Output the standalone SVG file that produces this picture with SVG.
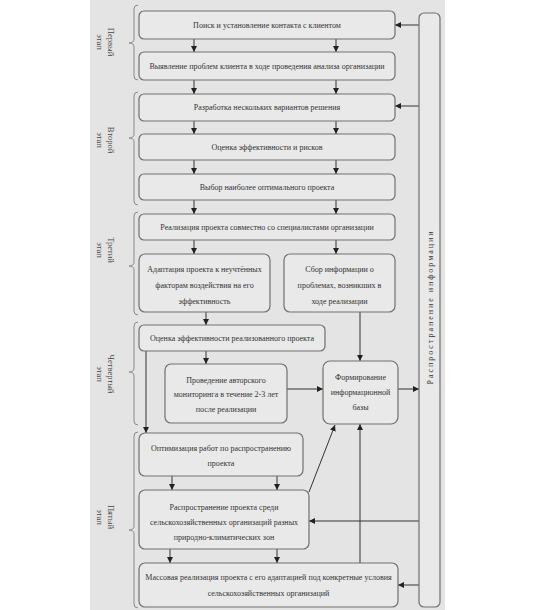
<svg xmlns="http://www.w3.org/2000/svg" width="535" height="610" viewBox="0 0 535 610">
<style>
.bg{fill:#e4e4e4}
.box{fill:#e9e9e9;stroke:#707070;stroke-width:1.2}
.t{font-family:"Liberation Serif","Times New Roman",serif;font-size:8px;fill:#333;text-anchor:middle}
.lbl{font-family:"Liberation Serif","Times New Roman",serif;font-size:8.5px;fill:#444;text-anchor:middle}
.c{stroke:#333;stroke-width:1;fill:none}
.br{stroke:#8a8a8a;stroke-width:1;fill:none}
</style>
<defs>
<marker id="ah" viewBox="0 0 10 10" refX="10" refY="5" markerWidth="6" markerHeight="6" orient="auto" markerUnits="userSpaceOnUse">
<path d="M0,0 L10,5 L0,10 z" fill="#222"/>
</marker>
</defs>
<rect x="0" y="0" width="535" height="610" fill="#ffffff"/>
<rect class="bg" x="90" y="0" width="355" height="610"/>

<g id="braces">
<path class="br" d="M138 5 Q134 5 134 9 L134 39 Q134 43 129 43 Q134 43 134 47 L134 76 Q134 80 138 80"/>
<path class="br" d="M138 92 Q134 92 134 96 L134 134 Q134 138 129 138 Q134 138 134 142 L134 201 Q134 205 138 205"/>
<path class="br" d="M138 212 Q134 212 134 216 L134 262 Q134 266 129 266 Q134 266 134 270 L134 311 Q134 315 138 315"/>
<path class="br" d="M138 322 Q134 322 134 326 L134 368 Q134 372 129 372 Q134 372 134 376 L134 421 Q134 425 138 425"/>
<path class="br" d="M138 432 Q134 432 134 436 L134 526 Q134 530 129 530 Q134 530 134 534 L134 604 Q134 608 138 608"/>
</g>

<g id="stage-labels">
<text class="lbl" transform="translate(108,42) rotate(90)">Первый</text>
<text class="lbl" transform="translate(97,42) rotate(90)">этап</text>
<text class="lbl" transform="translate(108,140) rotate(90)">Второй</text>
<text class="lbl" transform="translate(97,140) rotate(90)">этап</text>
<text class="lbl" transform="translate(108,250) rotate(90)">Третий</text>
<text class="lbl" transform="translate(97,250) rotate(90)">этап</text>
<text class="lbl" transform="translate(108,374) rotate(90)">Четвертый</text>
<text class="lbl" transform="translate(97,374) rotate(90)">этап</text>
<text class="lbl" transform="translate(108,517) rotate(90)">Пятый</text>
<text class="lbl" transform="translate(97,517) rotate(90)">этап</text>
</g>

<g id="connectors">
<line class="c" x1="194" y1="39" x2="194" y2="52" marker-end="url(#ah)"/>
<line class="c" x1="336" y1="39" x2="336" y2="52" marker-end="url(#ah)"/>
<line class="c" x1="194" y1="80" x2="194" y2="94" marker-end="url(#ah)"/>
<line class="c" x1="336" y1="80" x2="336" y2="94" marker-end="url(#ah)"/>
<line class="c" x1="194" y1="121" x2="194" y2="134" marker-end="url(#ah)"/>
<line class="c" x1="336" y1="121" x2="336" y2="134" marker-end="url(#ah)"/>
<line class="c" x1="194" y1="160" x2="194" y2="174" marker-end="url(#ah)"/>
<line class="c" x1="336" y1="160" x2="336" y2="174" marker-end="url(#ah)"/>
<line class="c" x1="194" y1="200" x2="194" y2="214" marker-end="url(#ah)"/>
<line class="c" x1="336" y1="200" x2="336" y2="214" marker-end="url(#ah)"/>
<line class="c" x1="194" y1="240" x2="194" y2="254" marker-end="url(#ah)"/>
<line class="c" x1="336" y1="240" x2="336" y2="254" marker-end="url(#ah)"/>
<line class="c" x1="206" y1="312" x2="206" y2="325" marker-end="url(#ah)"/>
<line class="c" x1="206" y1="351" x2="206" y2="364" marker-end="url(#ah)"/>
<line class="c" x1="360" y1="312" x2="360" y2="361" marker-end="url(#ah)"/>
<line class="c" x1="287" y1="389" x2="323" y2="389" marker-end="url(#ah)"/>
<line class="c" x1="398" y1="389" x2="419" y2="389" marker-end="url(#ah)"/>
<line class="c" x1="146" y1="351" x2="146" y2="433" marker-end="url(#ah)"/>
<line class="c" x1="172" y1="476" x2="172" y2="490" marker-end="url(#ah)"/>
<line class="c" x1="277" y1="476" x2="277" y2="490" marker-end="url(#ah)"/>
<line class="c" x1="170" y1="549" x2="170" y2="563" marker-end="url(#ah)"/>
<line class="c" x1="277" y1="549" x2="277" y2="563" marker-end="url(#ah)"/>
<line class="c" x1="309" y1="492" x2="335" y2="425" marker-end="url(#ah)"/>
<line class="c" x1="360" y1="563" x2="360" y2="424" marker-end="url(#ah)"/>
<line class="c" x1="419" y1="25" x2="395" y2="25" marker-end="url(#ah)"/>
<line class="c" x1="419" y1="106" x2="395" y2="106" marker-end="url(#ah)"/>
<line class="c" x1="419" y1="521" x2="309" y2="521" marker-end="url(#ah)"/>
<line class="c" x1="419" y1="585" x2="398" y2="585" marker-end="url(#ah)"/>
</g>

<g id="n1"><rect class="box" x="139" y="11" width="256" height="28" rx="5"/><text class="t" x="267" y="28">Поиск и установление контакта с клиентом</text></g>
<g id="n2"><rect class="box" x="139" y="52" width="256" height="28" rx="5"/><text class="t" x="267" y="69">Выявление проблем клиента в ходе проведения анализа организации</text></g>
<g id="n3"><rect class="box" x="139" y="94" width="256" height="27" rx="5"/><text class="t" x="267" y="110">Разработка нескольких вариантов решения</text></g>
<g id="n4"><rect class="box" x="139" y="134" width="256" height="26" rx="5"/><text class="t" x="267" y="150">Оценка эффективности и рисков</text></g>
<g id="n5"><rect class="box" x="139" y="174" width="256" height="26" rx="5"/><text class="t" x="267" y="190">Выбор наиболее оптимального проекта</text></g>
<g id="n6"><rect class="box" x="139" y="214" width="256" height="26" rx="5"/><text class="t" x="267" y="230">Реализация проекта совместно со специалистами организации</text></g>
<g id="n7"><rect class="box" x="139" y="254" width="131" height="58" rx="6"/>
<text class="t" x="204.5" y="272">Адаптация проекта к неучтённых</text>
<text class="t" x="204.5" y="288">факторам воздействия на его</text>
<text class="t" x="204.5" y="304">эффективность</text></g>
<g id="n8"><rect class="box" x="284" y="254" width="111" height="58" rx="6"/>
<text class="t" x="339.5" y="272">Сбор информации о</text>
<text class="t" x="339.5" y="288">проблемах, возникших в</text>
<text class="t" x="339.5" y="304">ходе реализации</text></g>
<g id="n9"><rect class="box" x="139" y="325" width="186" height="26" rx="5"/><text class="t" x="232" y="341">Оценка эффективности реализованного проекта</text></g>
<g id="n10"><rect class="box" x="165" y="364" width="122" height="59" rx="6"/>
<text class="t" x="226" y="383">Проведение авторского</text>
<text class="t" x="226" y="397">мониторинга в течение 2-3 лет</text>
<text class="t" x="226" y="412">после реализации</text></g>
<g id="n11"><rect class="box" x="323" y="361" width="75" height="63" rx="7"/>
<text class="t" x="360.5" y="380">Формирование</text>
<text class="t" x="360.5" y="395">информационной</text>
<text class="t" x="360.5" y="410">базы</text></g>
<g id="n12"><rect class="box" x="139" y="433" width="164" height="43" rx="6"/>
<text class="t" x="221" y="451">Оптимизация работ по распространению</text>
<text class="t" x="221" y="466">проекта</text></g>
<g id="n13"><rect class="box" x="139" y="490" width="170" height="59" rx="6"/>
<text class="t" x="224" y="510">Распространение проекта среди</text>
<text class="t" x="224" y="525">сельскохозяйственных организаций разных</text>
<text class="t" x="224" y="540">природно-климатических зон</text></g>
<g id="n14"><rect class="box" x="139" y="563" width="259" height="44" rx="6"/>
<text class="t" x="268.5" y="580">Массовая реализация проекта с его адаптацией под конкретные условия</text>
<text class="t" x="268.5" y="596">сельскохозяйственных организаций</text></g>
<g id="n15"><rect class="box" x="419" y="13" width="21" height="594" rx="5"/>
<text class="t" transform="translate(432.5,308) rotate(-90)" textLength="153" lengthAdjust="spacing" font-size="8.5">Распространение информации</text></g>
</svg>
